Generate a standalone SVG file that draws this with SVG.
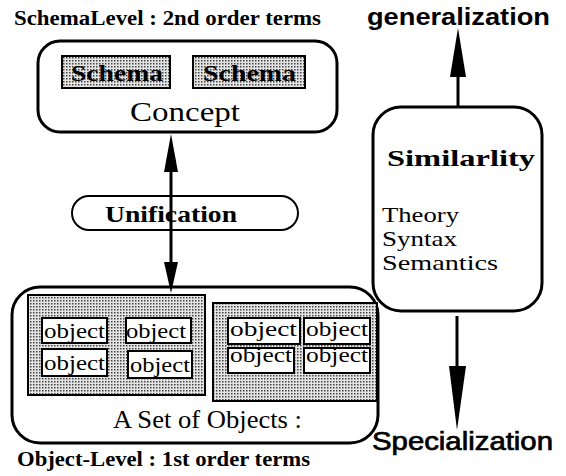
<svg xmlns="http://www.w3.org/2000/svg" width="566" height="476" viewBox="0 0 566 476">
  <defs>
    <pattern id="stipple" width="3" height="3" patternUnits="userSpaceOnUse">
      <rect width="3" height="3" fill="#e4e4e4"/>
      <rect width="1.5" height="1.5" fill="#444"/>
    </pattern>
  </defs>
  <style>
    .frame { fill: #fff; stroke: #000; stroke-width: 3; }
    .pill { fill: #fff; stroke: #000; stroke-width: 2; }
    .shade { fill: url(#stipple); stroke: #000; stroke-width: 2; }
    .obj { fill: #fff; stroke: #000; stroke-width: 2; }
    .cap { font-family: "Liberation Serif", serif; font-weight: bold; font-size: 21px; fill: #000; }
    .bk { font-family: "Liberation Serif", serif; font-weight: bold; font-size: 24px; fill: #000; }
    .rm { font-family: "Liberation Serif", serif; font-size: 27px; fill: #000; }
    .set { font-family: "Liberation Serif", serif; font-size: 25px; fill: #000; }
    .list { font-family: "Liberation Serif", serif; font-size: 21px; fill: #000; }
    .ob { font-family: "Liberation Serif", serif; font-size: 22px; fill: #000; }
    .gen { font-family: "Liberation Sans", Arial, sans-serif; font-weight: bold; font-size: 23px; fill: #000; }
    .spec { font-family: "Liberation Sans", Arial, sans-serif; font-size: 25px; fill: #000; stroke: #000; stroke-width: 0.7; }
    .line { stroke: #000; stroke-width: 3; fill: none; }
    .head { fill: #000; }
  </style>

  <text class="cap" x="14" y="25" textLength="307" lengthAdjust="spacingAndGlyphs">SchemaLevel : 2nd order terms</text>

  <g id="concept">
    <rect class="frame" x="38" y="41" width="299" height="91" rx="22"/>
    <rect class="shade" x="62" y="56" width="108" height="32"/>
    <text class="bk" x="71" y="81" textLength="92" lengthAdjust="spacingAndGlyphs">Schema</text>
    <rect class="shade" x="193" y="56" width="112" height="32"/>
    <text class="bk" x="203" y="81" textLength="93" lengthAdjust="spacingAndGlyphs">Schema</text>
    <text class="rm" x="130" y="121" textLength="110" lengthAdjust="spacingAndGlyphs">Concept</text>
  </g>

  <g id="unification">
    <rect class="pill" x="72" y="196" width="226" height="34" rx="17"/>
    <text class="bk" x="105" y="222" textLength="132" lengthAdjust="spacingAndGlyphs">Unification</text>
  </g>

  <g id="objects">
    <rect class="frame" x="12" y="287" width="366" height="156" rx="28"/>
    <rect class="shade" x="28" y="295" width="177" height="100"/>
    <rect class="obj" x="42" y="318" width="65" height="25"/>
    <text class="ob" x="44" y="338" textLength="61" lengthAdjust="spacingAndGlyphs">object</text>
    <rect class="obj" x="126" y="318" width="65" height="25"/>
    <text class="ob" x="126" y="338" textLength="60" lengthAdjust="spacingAndGlyphs">object</text>
    <rect class="obj" x="42" y="349" width="65" height="27"/>
    <text class="ob" x="44" y="370" textLength="61" lengthAdjust="spacingAndGlyphs">object</text>
    <rect class="obj" x="128" y="351" width="64" height="27"/>
    <text class="ob" x="130" y="372" textLength="60" lengthAdjust="spacingAndGlyphs">object</text>

    <rect class="shade" x="213" y="303" width="164" height="98"/>
    <rect class="obj" x="228" y="318" width="72" height="26"/>
    <text class="ob" x="230" y="336" textLength="67" lengthAdjust="spacingAndGlyphs">object</text>
    <rect class="obj" x="304" y="318" width="66" height="26"/>
    <text class="ob" x="306" y="336" textLength="62" lengthAdjust="spacingAndGlyphs">object</text>
    <rect class="obj" x="228" y="348" width="66" height="25"/>
    <text class="ob" x="230" y="362" textLength="62" lengthAdjust="spacingAndGlyphs">object</text>
    <rect class="obj" x="304" y="348" width="66" height="25"/>
    <text class="ob" x="306" y="362" textLength="62" lengthAdjust="spacingAndGlyphs">object</text>

    <text class="set" x="113" y="428" textLength="189" lengthAdjust="spacingAndGlyphs">A Set of Objects :</text>
  </g>

  <text class="cap" x="17" y="466" textLength="293" lengthAdjust="spacingAndGlyphs">Object-Level  : 1st order terms</text>

  <g id="similarity">
    <rect class="frame" x="373" y="107" width="169" height="204" rx="28"/>
    <text class="bk" x="387" y="166" textLength="148" lengthAdjust="spacingAndGlyphs">Similarlity</text>
    <text class="list" x="382" y="222" textLength="77" lengthAdjust="spacingAndGlyphs">Theory</text>
    <text class="list" x="382" y="246" textLength="75" lengthAdjust="spacingAndGlyphs">Syntax</text>
    <text class="list" x="382" y="270" textLength="116" lengthAdjust="spacingAndGlyphs">Semantics</text>
  </g>

  <text class="gen" x="367" y="25" textLength="183" lengthAdjust="spacingAndGlyphs">generalization</text>
  <text class="spec" x="372" y="450" textLength="181" lengthAdjust="spacingAndGlyphs">Specialization</text>

  <g id="connectors">
    <!-- two-way link between the concept and the set of objects -->
    <line class="line" x1="171" y1="168" x2="171" y2="265"/>
    <path class="head" d="M171,134 L178,172 L164,172 Z"/>
    <path class="head" d="M171,293 L164,262 L178,262 Z"/>
    <!-- generalization / specialization axis -->
    <line class="line" x1="458" y1="72" x2="458" y2="107"/>
    <path class="head" d="M458,28 L466,77 L450,77 Z"/>
    <line class="line" x1="457" y1="316" x2="457" y2="370"/>
    <path class="head" d="M457,430 L449,366 L466,366 Z"/>
  </g>
</svg>
